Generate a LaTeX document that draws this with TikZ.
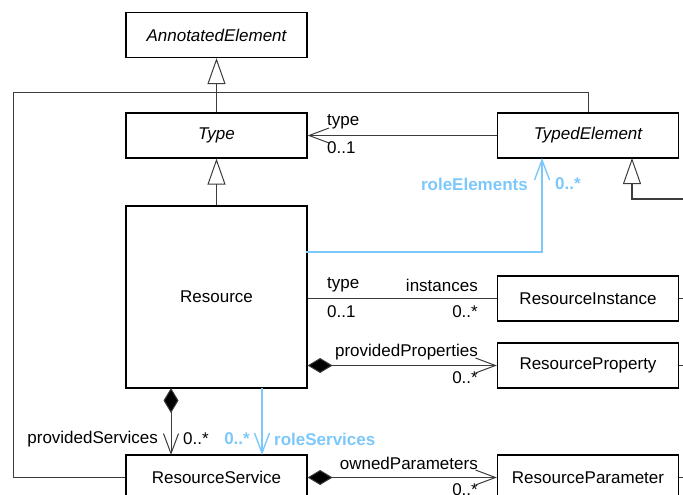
\documentclass[tikz,border=0pt]{standalone}
\usepackage{fontspec}
\setmainfont{Liberation Sans}
\usetikzlibrary{arrows.meta,calc}
\definecolor{roleblue}{RGB}{125,200,250}
\definecolor{linegray}{RGB}{60,60,60}
\tikzset{
  x=1pt,y=-1pt,
  every node/.style={font=\fontsize{17}{20}\selectfont},
  cls/.style={draw=black,line width=1.2pt,rectangle,minimum width=181pt,minimum height=45pt,inner sep=0pt},
  lbl/.style={inner sep=0pt},
  bluelbl/.style={inner sep=0pt,text=roleblue,font=\fontsize{17}{20}\selectfont\bfseries},
  conn/.style={draw=linegray,line width=1pt},
  gen/.style={conn,-{Triangle[open,length=26pt,width=18pt,line width=1pt]}},
  nav/.style={conn,-{Straight Barb[length=20pt,width=15pt,line width=1pt]}},
  comp/.style={conn,{Diamond[length=25pt,width=15pt,fill=black]}-{Straight Barb[length=20pt,width=15pt,line width=1pt]}},
  bluenav/.style={draw=roleblue,line width=1.4pt,-{Straight Barb[length=20pt,width=15pt,line width=1.4pt]}},
}
\begin{document}
\begin{tikzpicture}
\useasboundingbox (0,0) rectangle (683,495);
% classes
\node[cls] (ae) at (216.5,35) {\itshape AnnotatedElement};
\node[cls] (type) at (216.5,135.5) {\itshape Type};
\node[cls] (te) at (588,135.5) {\itshape TypedElement};
\node[cls,minimum height=182pt] (res) at (216.5,297) {Resource};
\node[cls] (ri) at (588,298.5) {ResourceInstance};
\node[cls] (rp) at (588,365.5) {ResourceProperty};
\node[cls] (rs) at (216.5,477.5) {ResourceService};
\node[cls] (rpar) at (588,477.5) {ResourceParameter};
% helper coordinates
\coordinate (jl) at (13,93);
\coordinate (j) at (216.5,93);
\coordinate (tegen) at (632,158);
\coordinate (teedge) at (683,199);
\coordinate (riedge) at (683,298.5);
\coordinate (rpedge) at (683,365.5);
\coordinate (rparedge) at (683,477.5);
\coordinate (rolee) at (542,158);
\coordinate (roler) at (306,252);
\coordinate (psrc) at (171,388);
\coordinate (pdst) at (171,455);
\coordinate (rssrc) at (262,388);
\coordinate (rsdst) at (262,455);
% generalizations
\draw[gen] (type.north) -- (ae.south);
\draw[gen] (res.north) -- (type.south);
\draw[conn] (te.north) |- (j);
\draw[conn] (rs.west) -| (jl) -- (j);
\draw[gen,line width=2pt] (teedge) -| (tegen);
% stubs
\draw[conn] (ri.east) -- (riedge);
\draw[conn] (rp.east) -- (rpedge);
\draw[conn] (rpar.east) -- (rparedge);
% associations
\draw[nav] (te.west) -- (type.east);
\node[lbl,anchor=west] (l1) at (327,122) {type};
\node[lbl,anchor=west] (l2) at (327,148) {0..1};
\draw[bluenav] (roler) -| (rolee);
\node[bluelbl,anchor=east] (l3) at (528,184) {roleElements};
\node[bluelbl,anchor=west] (l4) at (555,184) {0..*};
\draw[conn] (res.east |- ri.west) -- (ri.west);
\node[lbl,anchor=west] (l5) at (327,285) {type};
\node[lbl,anchor=east] (l6) at (478,285) {instances};
\node[lbl,anchor=west] (l7) at (327,312) {0..1};
\node[lbl,anchor=east] (l8) at (478,312) {0..*};
\draw[comp] (res.east |- rp.west) -- (rp.west);
\node[lbl,anchor=east] (l9) at (478,352) {providedProperties};
\node[lbl,anchor=east] (l10) at (478,378) {0..*};
\draw[comp] (psrc) -- (pdst);
\node[lbl,anchor=east] (l11) at (158,439) {providedServices};
\node[lbl,anchor=west] (l12) at (183,439) {0..*};
\draw[bluenav] (rssrc) -- (rsdst);
\node[bluelbl,anchor=east] (l13) at (250,439) {0..*};
\node[bluelbl,anchor=west] (l14) at (274,439) {roleServices};
\draw[comp] (rs.east) -- (rpar.west);
\node[lbl,anchor=east] (l15) at (478,463) {ownedParameters};
\node[lbl,anchor=east] (l16) at (478,490) {0..*};
\end{tikzpicture}
\end{document}
